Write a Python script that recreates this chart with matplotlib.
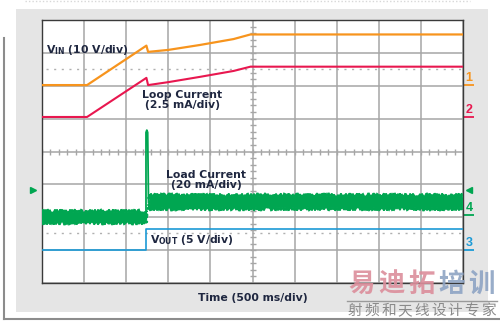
import matplotlib
matplotlib.use('Agg')
import matplotlib.pyplot as plt
from matplotlib.patches import Rectangle
from matplotlib.lines import Line2D

# ---------------- data (in screen divisions) ----------------
vin_t = [0, 1.07, 2.48, 2.52, 3.0, 3.75, 4.55, 4.95, 10]
vin_v = [6.02, 6.02, 7.22, 7.03, 7.09, 7.24, 7.42, 7.56, 7.56]

loop_t = [0, 1.07, 2.48, 2.52, 3.0, 3.75, 4.55, 4.95, 10]
loop_v = [5.05, 5.05, 6.24, 6.02, 6.11, 6.27, 6.45, 6.58, 6.58]

load_t1 = [0, 2.47]
load_lo1 = [1.82, 1.82]
load_hi1 = [2.18, 2.18]
load_t2 = [2.53, 10]
load_lo2 = [2.25, 2.25]
load_hi2 = [2.68, 2.68]
spike_t = [2.47, 2.47, 2.49, 2.51, 2.53]
spike_v = [2.0, 4.58, 4.65, 4.58, 2.45]

vout_t = [0, 2.48, 2.48, 10]
vout_v = [1.0, 1.0, 1.64, 1.64]

labels = {
    'vin': r'V$_{\mathrm{IN}}$ (10 V/div)',
    'loop': 'Loop Current\n(2.5 mA/div)',
    'load': 'Load Current\n(20 mA/div)',
    'vout': r'V$_{\mathrm{OUT}}$ (5 V/div)',
    'time': 'Time (500 ms/div)',
}
markers = [('1', 6.24, 6.02), ('2', 5.26, 5.05), ('4', 2.28, 2.07), ('3', 1.22, 1.00)]

C_OR = '#f7941d'
C_RD = '#e8174f'
C_GR = '#00a651'
C_BL = '#1b9ad6'
C_TX = '#1f2740'
C_GRID = '#a6a6a6'

plt.rcParams['mathtext.fontset'] = 'custom'
plt.rcParams['mathtext.rm'] = 'DejaVu Sans:bold'
plt.rcParams['mathtext.it'] = 'DejaVu Sans:bold'
plt.rcParams['mathtext.bf'] = 'DejaVu Sans:bold'

fig = plt.figure(figsize=(5.0, 3.22), dpi=100)
fig.patch.set_facecolor('white')

W, H = 500.0, 322.0
def fx(px):
    return px / W
def fy(py):
    return 1 - py / H

# gray background panel
fig.patches.append(Rectangle((fx(16), fy(312)), fx(488) - fx(16), fy(9) - fy(312),
                             transform=fig.transFigure, facecolor='#e5e5e5',
                             edgecolor='none', zorder=-5))
# outer frame lines
fig.lines.append(Line2D([fx(4), fx(4)], [fy(38), fy(319)], transform=fig.transFigure,
                        color='#8c8c8c', lw=1.5, zorder=-4))
fig.lines.append(Line2D([fx(4), fx(500)], [fy(319), fy(319)], transform=fig.transFigure,
                        color='#8c8c8c', lw=1.5, zorder=-4))
fig.lines.append(Line2D([fx(25), fx(470)], [fy(1), fy(1)], transform=fig.transFigure,
                        color='#d8d8d8', lw=1, ls=(0, (1, 1.5)), zorder=-4))

ax = fig.add_axes([fx(42), fy(283), fx(463) - fx(42), fy(20) - fy(283)])
ax.set_zorder(1)
ax.set_facecolor('white')
ax.set_xlim(0, 10)
ax.set_ylim(0, 8)
ax.set_xticks(range(11))
ax.set_yticks(range(9))
ax.tick_params(length=0, labelbottom=False, labelleft=False)
ax.grid(True, color=C_GRID, lw=1.1)
for s in ax.spines.values():
    s.set_color('#3a3a3a')
    s.set_linewidth(1.0)

# center line minor ticks
mx = [i * 0.2 for i in range(51)]
ax.plot(mx, [4] * len(mx), ls='none', marker='|', ms=5, mew=1.0, color=C_GRID, zorder=1)
my = [i * 0.2 for i in range(41)]
ax.plot([5] * len(my), my, ls='none', marker='_', ms=5, mew=1.0, color=C_GRID, zorder=1)

# dotted reference lines
for yy in (6.5, 1.52):
    ax.plot([0.1, 10], [yy, yy], color='#b0b0b0', lw=1.0, ls=(0, (1.5, 4)), zorder=1)

# traces
ax.plot(vin_t, vin_v, color=C_OR, lw=1.6, zorder=3)
ax.plot(loop_t, loop_v, color=C_RD, lw=1.5, zorder=3)
for tt, lo, hi in ((load_t1, load_lo1, load_hi1), (load_t2, load_lo2, load_hi2)):
    polys = ax.fill(list(tt) + list(tt[::-1]), list(lo) + list(hi[::-1]),
                    facecolor=C_GR, edgecolor=C_GR, lw=1.2, zorder=3)
    for p in polys:
        p.set_sketch_params(scale=1.6, length=2.0, randomness=3.0)
ax.plot(spike_t, spike_v, color=C_GR, lw=1.3, zorder=3)
ax.plot(vout_t, vout_v, color=C_BL, lw=1.2, zorder=3)

# channel markers on right
mcol = {'1': C_OR, '2': C_RD, '4': C_GR, '3': C_BL}
for lab, yt, yu in markers:
    ax.text(10.14, yt, lab, color=mcol[lab], fontsize=9, fontweight='bold',
            ha='center', va='center', family='Liberation Sans', clip_on=False)
    ax.plot([10.03, 10.25], [yu, yu], color=mcol[lab], lw=1.3, clip_on=False,
            solid_capstyle='butt')
ax.plot([-0.21], [2.83], marker='>', ms=5, color=C_GR, clip_on=False, ls='none')
ax.plot([10.14], [2.83], marker='<', ms=5, color=C_GR, clip_on=False, ls='none')

# labels
tk = dict(color=C_TX, fontsize=7.8, fontweight='bold', family='DejaVu Sans')
ax.text(0.1, 7.09, labels['vin'], ha='left', va='center', **tk)
ax.text(3.33, 5.57, labels['loop'], ha='center', va='center', linespacing=1.0, **tk)
ax.text(3.9, 3.13, labels['load'], ha='center', va='center', linespacing=1.0, **tk)
ax.text(2.57, 1.31, labels['vout'], ha='left', va='center', **tk)
fig.text(fx(253), fy(298), labels['time'], ha='center', va='center', **tk)

# watermark
wm_main = ['易', '迪', '拓', '培', '训']
wm_cols = ['#dc8e9b', '#dc8e9b', '#dc8e9b', '#8ea4c4', '#8ea4c4']
for i, (ch, c) in enumerate(zip(wm_main, wm_cols)):
    fig.text(fx(347 + 29.8 * i + 14.9), fy(284), ch, color=c, fontsize=19,
             fontweight='bold', family='Noto Sans CJK SC', ha='center', va='center',
             alpha=0.9, zorder=10)
wm_sub = list('射频和天线设计专家')
for i, ch in enumerate(wm_sub):
    fig.text(fx(347 + 16.6 * i + 8.3), fy(311), ch, color='#8a8a8a', fontsize=10.5,
             family='Noto Sans CJK SC', ha='center', va='center', zorder=10)
fig.lines.append(Line2D([fx(347), fx(497)], [fy(301), fy(301)], transform=fig.transFigure,
                        color='#9a9a9a', lw=1.0, zorder=10))

fig.savefig('out.png', dpi=100)
